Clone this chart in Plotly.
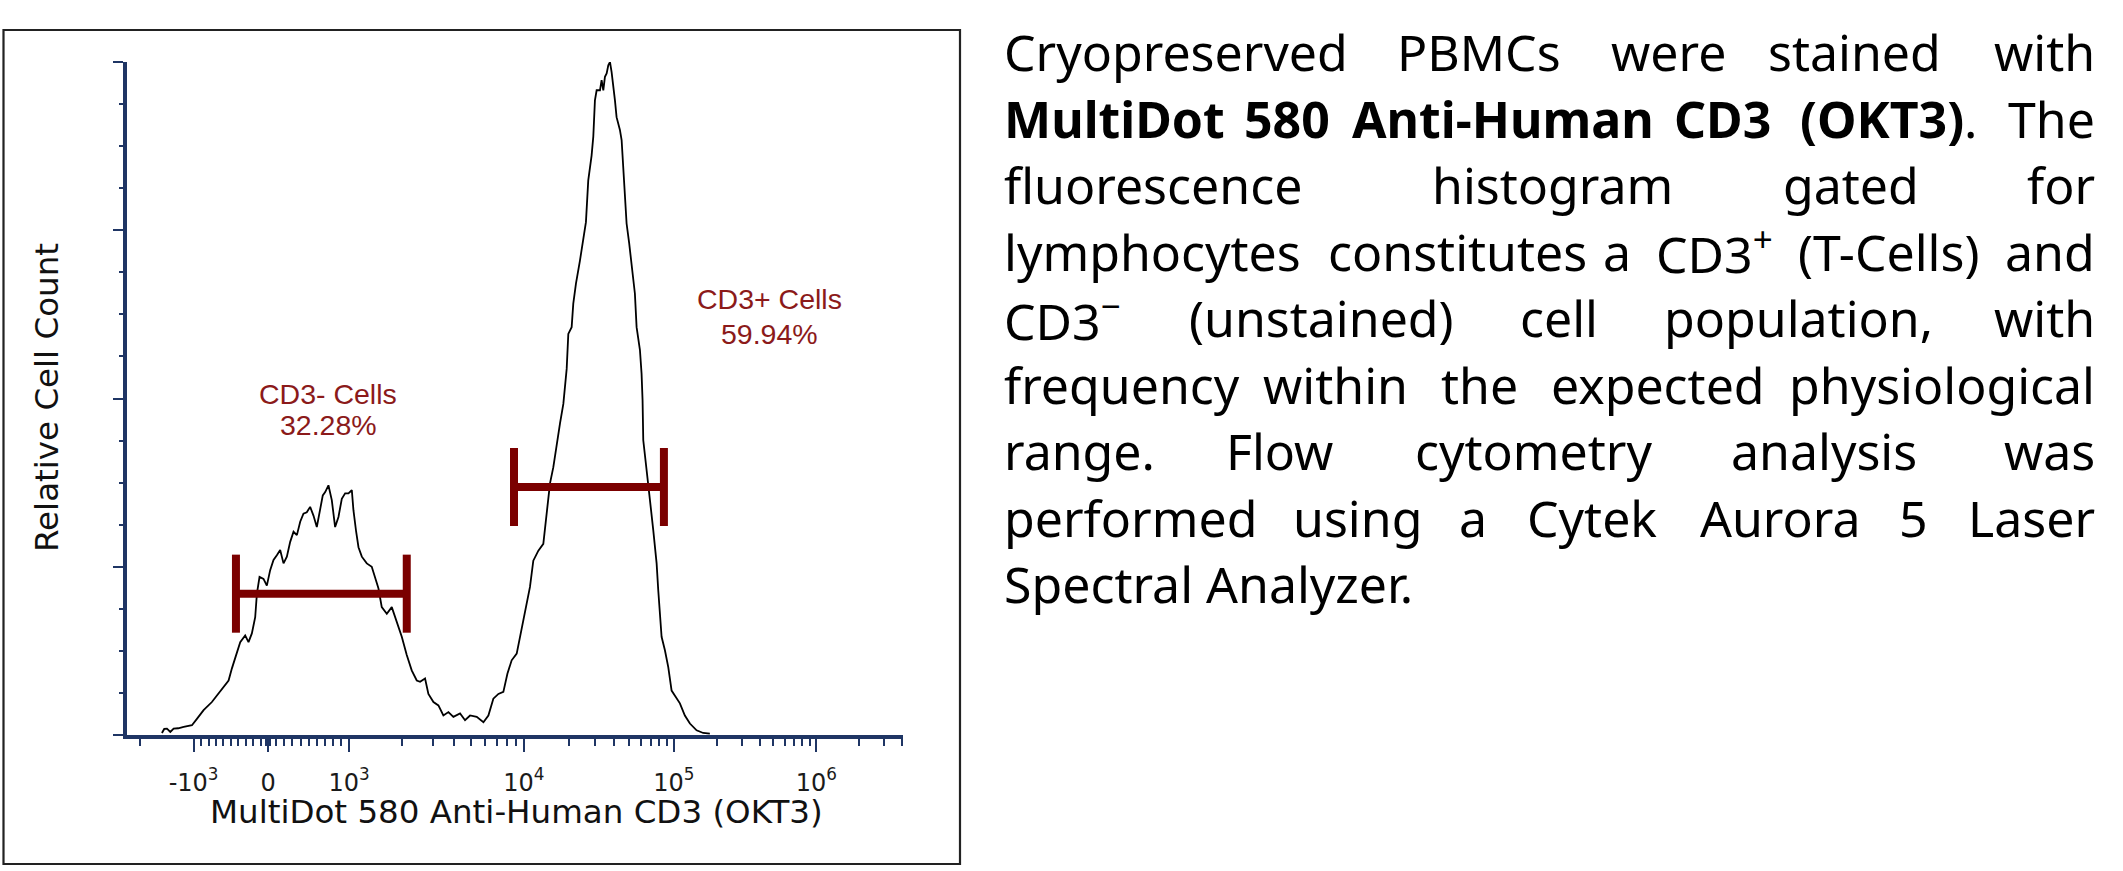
import numpy as np
import plotly.graph_objects as go

# histogram of CD3 staining, x in display channels (0-1000, logicle scale), y = % of max count
channel = [45.0, 48.0, 51.5, 55.8, 60.1, 66.0, 73.0, 83.7, 90.1, 98.7, 109.4, 118.0, 126.6, 130.9,
           135.2, 141.6, 145.9, 152.3, 156.6, 160.9, 165.2, 167.4, 170.8, 175.9, 180.2, 184.5, 188.8,
           193.1, 197.4, 201.7, 206.0, 210.3, 214.6, 218.9, 223.2, 227.4, 231.7, 236.0, 240.3, 244.6,
           248.9, 252.3, 255.4, 259.6, 263.9, 268.2, 272.5, 276.8, 281.1, 285.4, 289.7, 291.8, 295.3,
           298.3, 302.6, 309.0, 315.4, 319.7, 324.0, 328.3, 334.8, 341.2, 345.5, 349.8, 354.1, 360.5,
           366.9, 373.4, 377.7, 384.1, 388.4, 394.9, 401.3, 407.7, 414.2, 420.6, 429.2, 435.6, 442.1,
           450.7, 459.3, 465.7, 472.1, 478.6, 485.0, 490.2, 495.7, 502.2, 506.5, 510.8, 515.1, 519.3,
           523.6, 530.1, 536.5, 539.9, 545.1, 549.4, 553.7, 558.0, 562.3, 564.5, 566.6, 568.7, 573.0,
           575.1, 578.6, 583.7, 588.0, 591.4, 594.4, 598.7, 600.9, 603.0, 605.2, 609.5, 611.6, 613.8,
           615.9, 618.1, 620.2, 622.4, 624.5, 626.6, 628.8, 630.9, 635.2, 637.4, 639.5, 641.7, 643.8,
           647.2, 650.2, 654.5, 656.7, 661.0, 663.1, 664.4, 665.3, 669.6, 673.9, 678.2, 682.5, 684.6,
           686.7, 688.9, 693.2, 697.5, 701.8, 706.1, 712.5, 718.9, 725.4, 734.0, 742.5, 751.1]
count_pct = [0.3, 0.9, 0.95, 0.45, 0.95, 1.0, 1.2, 1.45, 2.4, 3.7, 4.9, 6.2, 7.4, 8.1,
             9.9, 12.1, 13.8, 14.8, 13.8, 15.1, 17.5, 21.0, 23.5, 23.2, 22.2, 24.5, 26.0,
             26.7, 27.5, 25.5, 26.5, 28.7, 30.2, 29.7, 31.7, 32.9, 33.1, 33.9, 32.6, 30.9,
             33.4, 35.6, 36.1, 37.1, 34.9, 30.9, 32.4, 35.1, 35.9, 35.9, 36.4, 33.4, 30.2,
             27.9, 26.5, 25.5, 25.0, 23.5, 21.8, 19.0, 18.0, 19.0, 17.5, 16.1, 14.6, 11.9,
             9.6, 8.1, 7.9, 8.4, 6.1, 4.9, 4.4, 2.9, 3.4, 2.7, 3.2, 2.2, 2.9,
             2.7, 1.9, 2.9, 5.4, 6.1, 6.4, 9.1, 11.1, 12.1, 14.6, 17.0, 19.5, 22.0,
             25.9, 27.4, 28.4, 32.4, 37.4, 39.8, 43.3, 46.3, 49.2, 51.5, 54.4, 59.6, 60.6,
             64.1, 67.1, 70.5, 73.5, 76.2, 82.4, 86.1, 88.9, 94.3, 95.8, 95.8, 97.3, 95.8,
             97.8, 98.3, 99.5, 100.0, 98.5, 96.8, 94.3, 91.8, 89.9, 88.4, 84.4, 80.4, 76.0,
             73.0, 69.5, 65.6, 60.6, 57.2, 53.7, 49.7, 43.8, 38.8, 34.9, 30.4, 25.5, 21.5,
             17.5, 14.6, 12.6, 10.1, 6.6, 5.9, 4.7, 2.9, 1.7, 0.7, 0.3, 0.2]

# gates
gate_names = ["CD3- Cells", "CD3+ Cells"]
gate_freq = ["32.28%", "59.94%"]
gate_lo = [140.4, 498.7]
gate_hi = [360.5, 691.9]
gate_level = [21.0, 36.85]
label_x = [259.2, 828.4]
label_y1 = [50.6, 64.8]
label_y2 = [46.0, 59.6]

# logicle decade positions on the channel scale
tick_channel = [85.8, 181.9, 286.2, 511.5, 704.7, 888.2]
tick_text = ["-10<sup>3</sup>", "0", "10<sup>3</sup>", "10<sup>4</sup>", "10<sup>5</sup>", "10<sup>6</sup>"]
last_decade_width = 183.5

caption_lines = [
    ["Cryopreserved", "PBMCs", "were", "stained", "with"],
    ["<b>MultiDot</b>", "<b>580</b>", "<b>Anti-Human</b>", "<b>CD3</b>", "<b>(OKT3)</b>", ".", "The"],
    ["fluorescence", "histogram", "gated", "for"],
    ["lymphocytes", "constitutes", "a", "CD3<sup>+</sup>", "(T-Cells)", "and"],
    ["CD3<sup>\u2212</sup>", "(unstained)", "cell", "population,", "with"],
    ["frequency", "within", "the", "expected", "physiological"],
    ["range.", "Flow", "cytometry", "analysis", "was"],
    ["performed", "using", "a", "Cytek", "Aurora", "5", "Laser"],
    ["Spectral Analyzer."],
]
# word left edges in page pixels (last word of justified lines is right aligned)
caption_word_x = [
    [1006, 1399, 1613, 1770],
    [1006, 1246, 1354, 1676, 1802, 1966],
    [1006, 1434, 1785],
    [1006, 1330, 1605, 1658, 1800],
    [1006, 1191, 1522, 1666],
    [1006, 1265, 1443, 1553],
    [1006, 1228, 1417, 1733],
    [1006, 1295, 1461, 1529, 1702, 1901],
    [1006],
]
caption_right = 2097

W, H = 2123, 871
PL, PR, PT, PB = 127, 903, 62, 735
NAVY = "#1f3564"
GATE = "#7b0000"
LABEL = "#8b1a1a"
ANN_PAD = 4  # plotly annotation box padding


def paper_x(px):
    return (px - PL) / (PR - PL)


def paper_y(py):
    return (PB - py) / (PB - PT)


# minor ticks: linear region around zero, log decades above 10^3
minor_vals = [17.1]
for a, b in [(tick_channel[0], tick_channel[1]), (tick_channel[1], tick_channel[2])]:
    minor_vals += list(np.linspace(a, b, 11)[1:-1])
decades = list(zip(tick_channel[2:], tick_channel[3:])) + [(tick_channel[-1], tick_channel[-1] + last_decade_width)]
for a, b in decades:
    for k in range(2, 10):
        v = a + (b - a) * np.log10(k)
        if v <= 1000:
            minor_vals.append(v)
minor_vals += [tick_channel[1] - 2.5, tick_channel[1] + 2.5]

fig = go.Figure()
fig.add_trace(go.Scatter(x=channel, y=count_pct, mode="lines",
                         line=dict(color="black", width=1.8), cliponaxis=False,
                         showlegend=False, hoverinfo="skip"))

half = 5.8
for lo, hi, lv in zip(gate_lo, gate_hi, gate_level):
    fig.add_trace(go.Scatter(
        x=[lo, hi, None, lo, lo, None, hi, hi],
        y=[lv, lv, None, lv - half, lv + half, None, lv - half, lv + half],
        mode="lines", line=dict(color=GATE, width=8), showlegend=False, hoverinfo="skip"))

for name, freq, lx, y1, y2 in zip(gate_names, gate_freq, label_x, label_y1, label_y2):
    for txt, yy in [(name, y1), (freq, y2)]:
        fig.add_annotation(x=lx, y=yy, text=txt, showarrow=False,
                           xanchor="center", yanchor="middle",
                           font=dict(family="Liberation Sans", size=28.5, color=LABEL))

# axis titles
fig.add_annotation(xref="paper", yref="paper", x=paper_x(516), y=paper_y(812),
                   xanchor="center", yanchor="middle",
                   text="MultiDot 580 Anti-Human CD3 (OKT3)", showarrow=False,
                   font=dict(family="DejaVu Sans", size=32.5, color="#111111"))
fig.add_annotation(xref="paper", yref="paper", x=paper_x(47), y=paper_y(398),
                   xanchor="center", yanchor="middle",
                   text="Relative Cell Count", textangle=-90, showarrow=False,
                   font=dict(family="DejaVu Sans", size=32.5, color="#111111"))

# caption text, word by word to mimic justified layout
line_y0, line_step = 52, 66.5
for i, words in enumerate(caption_lines):
    py = line_y0 + i * line_step
    xs = caption_word_x[i]
    for j, w in enumerate(words):
        if j < len(xs):
            px, anchor = xs[j] - ANN_PAD, "left"
        else:
            px, anchor = caption_right, "right"
        fig.add_annotation(xref="paper", yref="paper", x=paper_x(px), y=paper_y(py),
                           xanchor=anchor, yanchor="middle", text=w, showarrow=False,
                           font=dict(family="Noto Sans", size=50, color="black"))

# outer frame around the cytometry plot
fig.add_shape(type="rect", xref="paper", yref="paper",
              x0=paper_x(3.5), x1=paper_x(960), y0=paper_y(864), y1=paper_y(30),
              line=dict(color="#222222", width=2.2))

fig.update_layout(
    width=W, height=H,
    margin=dict(l=PL, r=W - PR, t=PT, b=H - PB, pad=0),
    paper_bgcolor="white", plot_bgcolor="white",
    showlegend=False,
)
fig.update_xaxes(
    range=[0, 1000], showgrid=False, zeroline=False,
    showline=True, linecolor=NAVY, linewidth=3.5,
    tickmode="array", tickvals=tick_channel, ticktext=tick_text,
    ticks="outside", ticklen=13, tickwidth=2, tickcolor=NAVY,
    ticklabelstandoff=10,
    tickfont=dict(family="DejaVu Sans", size=24, color="#1a1a1a"),
    minor=dict(tickmode="array", tickvals=minor_vals, ticks="outside",
               ticklen=7, tickwidth=2, tickcolor=NAVY, showgrid=False),
)
fig.update_yaxes(
    range=[0, 100], showgrid=False, zeroline=False,
    showline=True, linecolor=NAVY, linewidth=3.5,
    tickmode="linear", tick0=0, dtick=25, ticks="outside", ticklen=10,
    tickwidth=2, tickcolor=NAVY, showticklabels=False,
    minor=dict(tickmode="linear", tick0=0, dtick=6.25, ticks="outside",
               ticklen=4, tickwidth=2, tickcolor=NAVY, showgrid=False),
)

# drop the browser's default 8px body margin so page pixels match the layout
fig.write_html("out.html", config={"displayModeBar": False},
               post_script="document.body.style.margin='0px';")
